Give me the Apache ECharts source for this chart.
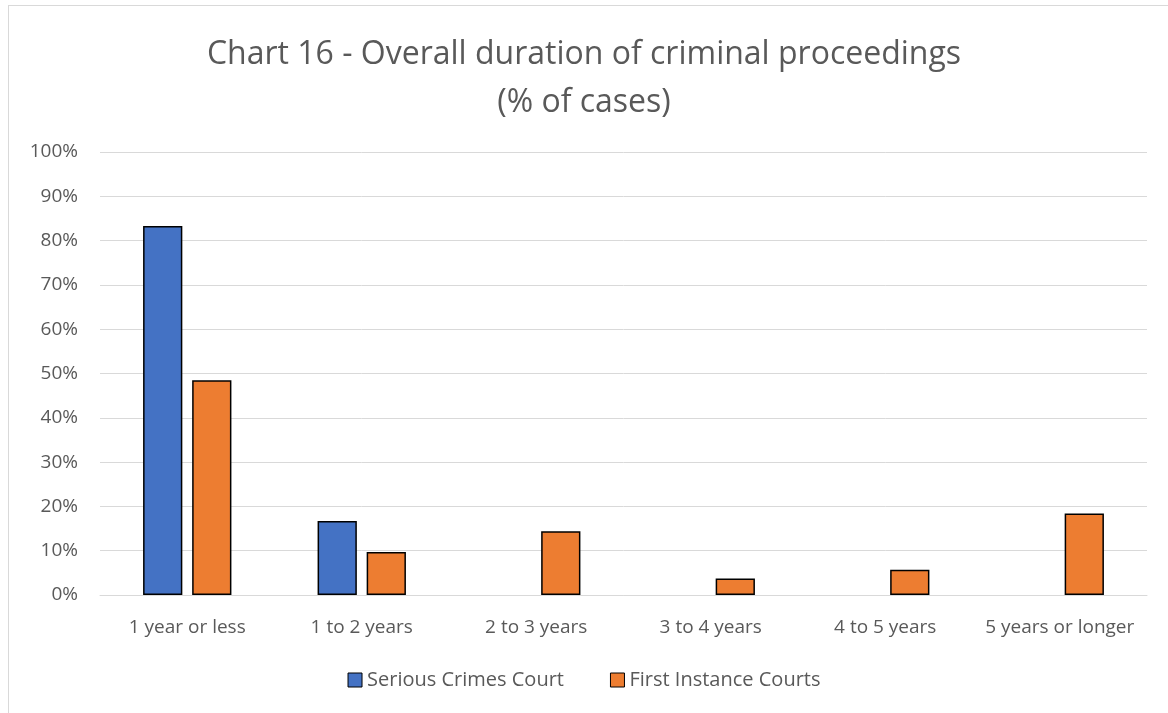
<!DOCTYPE html>
<html><head><meta charset="utf-8">
<script src="https://cdn.jsdelivr.net/npm/echarts@6/dist/echarts.min.js"></script>
<style>
html,body{margin:0;padding:0;background:#fff;}
#frame{position:absolute;left:8px;top:5px;width:1200px;height:760px;border:1px solid #d9d9d9;box-sizing:border-box;}
#c{position:absolute;left:0;top:0;width:1168px;height:713px;}
</style></head>
<body>
<div id="frame"></div>
<div id="c"></div>
<script>
const categories = ['1 year or less','1 to 2 years','2 to 3 years','3 to 4 years','4 to 5 years','5 years or longer'];
const seriousCrimes = [83.3, 16.7, 0, 0, 0, 0];
const firstInstance = [48.5, 9.7, 14.4, 3.7, 5.7, 18.4];
const seriesNames = ['Serious Crimes Court','First Instance Courts'];
const yTicks = [0,10,20,30,40,50,60,70,80,90,100];

const toBars = arr => arr.map(v => v === 0 ? {value:v, itemStyle:{borderWidth:0}} : v);

const chart = echarts.init(document.getElementById('c'));
const font = 'Open Sans';
chart.setOption({
  animation:false,
  title:{
    text:'Chart 16 - Overall duration of criminal proceedings\n(% of cases)',
    left:'center', top:26,
    textStyle:{fontFamily:font,fontSize:32,fontWeight:'normal',color:'#595959',lineHeight:48}
  },
  legend:{
    bottom:18, left:'center', itemWidth:14, itemHeight:14, itemGap:46,
    icon:'rect',
    textStyle:{fontFamily:font,fontSize:20,color:'#595959'},
    data:seriesNames.map(n=>({name:n,itemStyle:{borderColor:'#000',borderWidth:1}}))
  },
  grid:{left:100,right:21,top:152,bottom:118},
  xAxis:{
    type:'category', data:categories,
    axisLine:{show:true,lineStyle:{color:'#d9d9d9',width:1}},
    axisTick:{show:false},
    axisLabel:{fontFamily:font,fontSize:19,color:'#595959',margin:23,interval:0}
  },
  yAxis:{
    type:'value', min:yTicks[0], max:yTicks[yTicks.length-1], interval:10,
    axisLine:{show:false}, axisTick:{show:false},
    splitLine:{lineStyle:{color:'#d9d9d9',width:1}},
    axisLabel:{fontFamily:font,fontSize:19,color:'#595959',margin:22,formatter:v=>v+'%'}
  },
  series:[
    {name:seriesNames[0],type:'bar',data:toBars(seriousCrimes),barWidth:'22.5%',barGap:'25%',
     itemStyle:{color:'#4472c4',borderColor:'#000',borderWidth:1.5}},
    {name:seriesNames[1],type:'bar',data:toBars(firstInstance),barWidth:'22.5%',
     itemStyle:{color:'#ed7d31',borderColor:'#000',borderWidth:1.5}}
  ]
});
</script>
</body></html>
